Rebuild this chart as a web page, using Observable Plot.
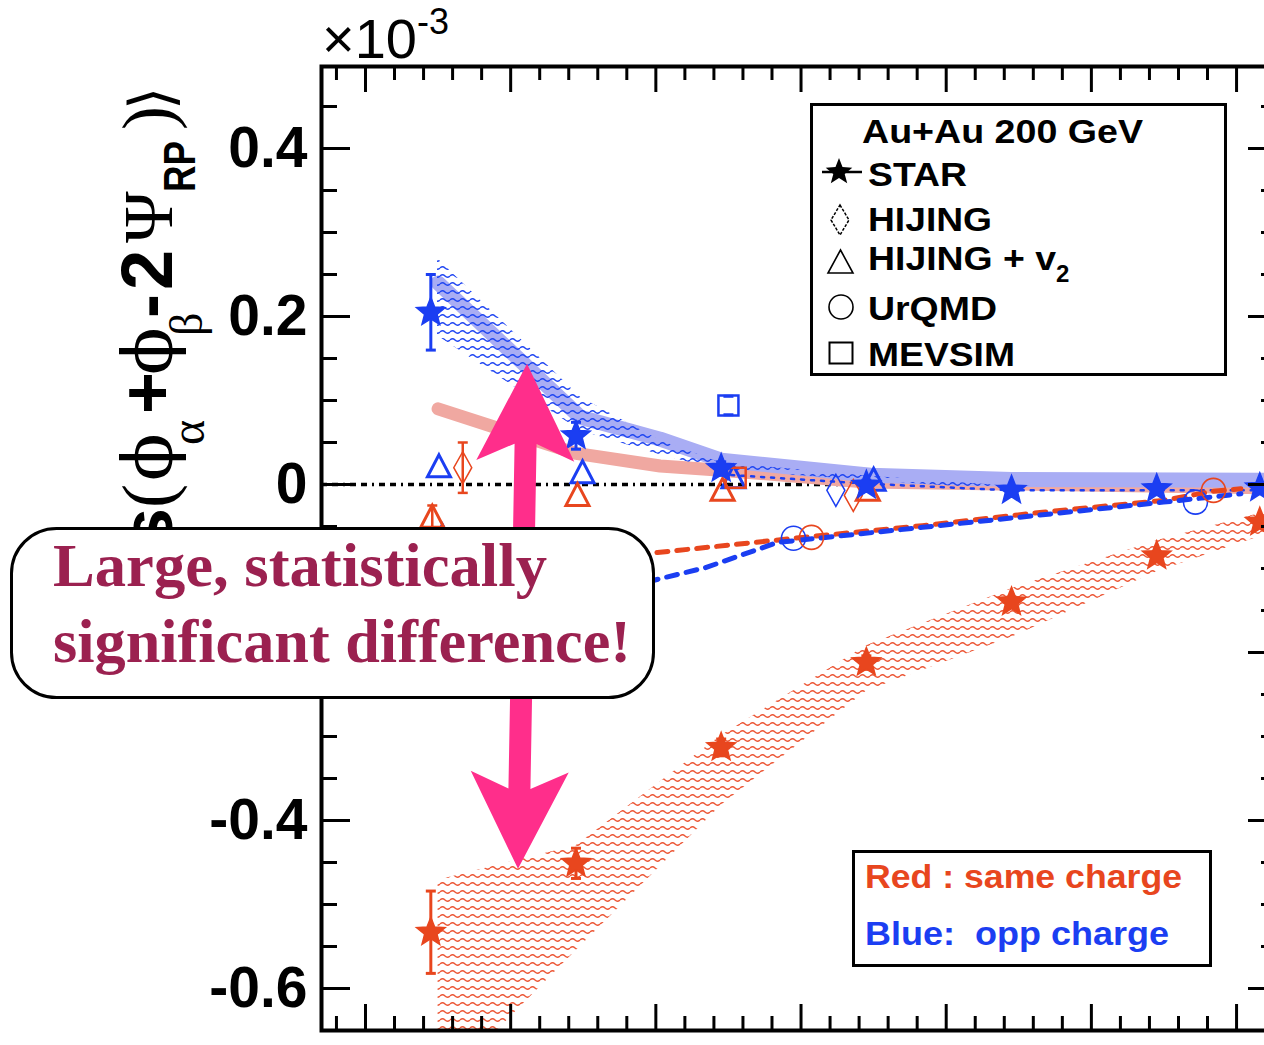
<!DOCTYPE html>
<html>
<head>
<meta charset="utf-8">
<script src="https://cdn.jsdelivr.net/npm/d3@7"></script>
<script src="https://cdn.jsdelivr.net/npm/@observablehq/plot@0.6"></script>
<style>
html, body { margin: 0; padding: 0; background: #fff; overflow: hidden; }
#wrap { position: relative; width: 1264px; height: 1045px; overflow: hidden; background: #fff; }
#wrap > svg { position: absolute; left: 0; top: 0; }
#overlay text { white-space: pre; }
</style>
</head>
<body>
<div id="wrap"></div>
<script>
// ---------------- data (x: centrality position, y: value in units of 1e-3) ----------------
const RED = "#e8461e", BLUE = "#1b3ef2";

// STAR points
const starX = [75.5, 65.5, 55.5, 45.5, 35.5, 25.5, 18.4];
const starSame = [-0.533, -0.451, -0.313, -0.212, -0.140, -0.085, -0.045];
const starSameErr = [0.049, 0.018, 0.010, 0.008, 0.006, 0.005, 0.005];
const starOpp = [0.205, 0.058, 0.019, -0.001, -0.007, -0.005, -0.004];
const starOppErr = [0.045, 0.016, 0.008, 0.006, 0.004, 0.004, 0.004];

// systematic (hatched) bands
const sameBandX = [75.0, 65.5, 55.5, 45.5, 35.5, 25.5, 17.18];
const sameBandHi = [-0.471, -0.430, -0.299, -0.192, -0.124, -0.067, -0.029];
const sameBandLo = [-0.721, -0.555, -0.382, -0.246, -0.182, -0.104, -0.055];
const oppBandX = [75.04, 65.19, 59.68, 55.55, 45.49, 35.57, 25.58, 17.18];
const oppBandHi = [0.269, 0.104, 0.052, 0.026, 0.010, -0.002, -0.004, -0.004];
const oppBandLo = [0.177, 0.064, 0.035, 0.017, 0.005, -0.007, -0.007, -0.007];
const oppDotX = [55.5, 45.5, 35.5, 25.5, 17.18];
const oppDotY = [0.012, 0.001, -0.007, -0.007, -0.007];

// thick light curves
const oppCurveX = [75.0, 65.2, 59.7, 55.5, 45.2, 35.5, 17.18];
const oppCurveY = [0.240, 0.080, 0.054, 0.029, 0.011, 0.006, 0.005];
const sameCurveX = [75.0, 65.5, 59.7, 55.5, 45.5, 17.18];
const sameCurveY = [0.090, 0.037, 0.022, 0.017, 0.003, -0.004];

// HIJING + v2 (triangles)
const triOppX = [74.94, 65.05, 54.65, 45.0, 74.7];
const triOppY = [0.021, 0.014, 0.008, 0.005, -0.062];
const triSameX = [75.4, 65.4, 55.4, 45.4];
const triSameY = [-0.039, -0.013, -0.007, -0.007];
const triSameErr = [0.014, 0, 0, 0];
// HIJING (diamonds)
const diaSameX = [73.3, 46.4];
const diaSameY = [0.020, -0.013];
const diaSameErr = [0.030, 0];
const diaOppX = [47.6];
const diaOppY = [-0.007];
// MEVSIM (squares)
const sqOppX = [55.0];
const sqOppY = [0.094];
const sqOppErr = [0.011];
const sqSameX = [54.5];
const sqSameY = [0.008];
// UrQMD (circles + dashed curves)
const circOppX = [50.52, 22.83];
const circOppY = [-0.064, -0.021];
const circSameX = [49.28, 21.59];
const circSameY = [-0.063, -0.007];
const urqSameX = [75.0, 59.89, 49.9, 41.63, 33.36, 25.03, 21.59, 19.7];
const urqSameY = [-0.108, -0.081, -0.063, -0.049, -0.033, -0.019, -0.008, -0.005];
const urqOppX = [75.0, 59.68, 56.58, 51.62, 41.63, 25.03, 22.83, 19.7];
const urqOppY = [-0.180, -0.112, -0.099, -0.069, -0.051, -0.021, -0.017, -0.011];

// axis ticks (the -0.2 label is hidden behind the callout in the reference)
const yMajorTicks = [-0.6, -0.4, -0.2, 0, 0.2, 0.4];
const yLabelTicks = [-0.6, -0.4, 0, 0.2, 0.4];
const yMinorTicks = [-0.55, -0.5, -0.45, -0.35, -0.3, -0.25, -0.15, -0.1, -0.05, 0.05, 0.1, 0.15, 0.25, 0.3, 0.35, 0.45];
const xMajorTicks = [80, 70, 60, 50, 40, 30, 20];
const xMinorTicks = [82, 78, 76, 74, 72, 68, 66, 64, 62, 58, 56, 54, 52, 48, 46, 44, 42, 38, 36, 34, 32, 28, 26, 24, 22, 18];

// annotation arrow (top tip, bottom tip)
const arrowX = [68.84, 69.46];
const arrowY = [0.143, -0.458];

// ---------------- helpers ----------------
const rows = (xs, ys, es) => xs.map((x, i) => ({x, y: ys[i], e: es ? es[i] : 0}));
const band = (xs, lo, hi) => xs.map((x, i) => ({x, lo: lo[i], hi: hi[i]}));

function starPath(c) {
  const R = 15, r = 6.5;
  for (let i = 0; i < 10; i++) {
    const a = -Math.PI / 2 + i * Math.PI / 5, rr = i % 2 ? r : R;
    const px = rr * Math.cos(a), py = rr * Math.sin(a);
    if (i) c.lineTo(px, py); else c.moveTo(px, py);
  }
  c.closePath();
}
const sym = {
  star: {draw: starPath},
  tri: {draw(c) { c.moveTo(0, -12); c.lineTo(11.5, 10); c.lineTo(-11.5, 10); c.closePath(); }},
  dia: {draw(c) { c.moveTo(0, -16); c.lineTo(9, 0); c.lineTo(0, 16); c.lineTo(-9, 0); c.closePath(); }},
  oct: {draw(c) { c.moveTo(12, 0); c.arc(0, 0, 12, 0, 2 * Math.PI); }},
  sq: {draw(c) { c.rect(-10, -10, 20, 20); }},
  cap: {draw(c) { c.moveTo(-5, 0); c.lineTo(5, 0); }}
};

function caps(d, color, width) {
  return [
    Plot.dot(d, {x: "x", y: r => r.y + r.e, symbol: sym.cap, stroke: color, strokeWidth: width, fill: "none"}),
    Plot.dot(d, {x: "x", y: r => r.y - r.e, symbol: sym.cap, stroke: color, strokeWidth: width, fill: "none"})
  ];
}
function errBars(data, color, width = 3) {
  const d = data.filter(r => r.e > 0);
  return [
    Plot.ruleX(d, {x: "x", y1: r => r.y - r.e, y2: r => r.y + r.e, stroke: color, strokeWidth: width}),
    ...caps(d, color, width)
  ];
}

const W = 1264, H = 1045, mL = 321, mR = -13, mT = 66, mB = 15;
const fw = W - mL - mR, fh = H - mT - mB;

const sameStar = rows(starX, starSame, starSameErr);
const oppStar = rows(starX, starOpp, starOppErr);

const chart = Plot.plot({
  width: W, height: H,
  marginLeft: mL, marginRight: mR, marginTop: mT, marginBottom: mB,
  style: {fontFamily: "'Liberation Sans', Arial, Helvetica, sans-serif", background: "white", color: "black"},
  x: {domain: [83.03, 17.18], axis: null},
  y: {domain: [-0.65, 0.4976]},
  marks: [
    Plot.ruleY([0], {stroke: "#000", strokeWidth: 3.5, strokeDasharray: "6,5,6,5,2,5"}),
    Plot.line(rows(sameCurveX, sameCurveY), {x: "x", y: "y", stroke: "#f0a8a1", strokeWidth: 13, curve: "linear"}),
    Plot.line(rows(oppCurveX, oppCurveY), {x: "x", y: "y", stroke: "#a9adf4", strokeWidth: 15, curve: "linear"}),
    Plot.areaY(band(sameBandX, sameBandLo, sameBandHi), {x: "x", y1: "lo", y2: "hi", fill: "url(#wavyRed)", clip: true}),
    Plot.areaY(band(oppBandX, oppBandLo, oppBandHi), {x: "x", y1: "lo", y2: "hi", fill: "url(#wavyBlue)", clip: true}),
    Plot.line(rows(oppDotX, oppDotY), {x: "x", y: "y", stroke: BLUE, strokeWidth: 2.5, strokeDasharray: "3,7"}),
    Plot.line(rows(urqSameX, urqSameY), {x: "x", y: "y", stroke: RED, strokeWidth: 5, strokeDasharray: "11,9"}),
    Plot.line(rows(urqOppX, urqOppY), {x: "x", y: "y", stroke: BLUE, strokeWidth: 5, strokeDasharray: "11,9", strokeDashoffset: 4}),
    // model markers
    ...errBars(rows(triSameX, triSameY, triSameErr), RED, 2.5),
    ...errBars(rows(diaSameX, diaSameY, diaSameErr), RED, 2.5),
    ...caps(rows(sqOppX, sqOppY, sqOppErr), BLUE, 3),
    Plot.dot(rows(triOppX, triOppY), {x: "x", y: "y", symbol: sym.tri, stroke: BLUE, strokeWidth: 3, fill: "none"}),
    Plot.dot(rows(triSameX, triSameY), {x: "x", y: "y", symbol: sym.tri, stroke: RED, strokeWidth: 3, fill: "none"}),
    Plot.dot(rows(diaSameX, diaSameY), {x: "x", y: "y", symbol: sym.dia, stroke: RED, strokeWidth: 1.5, fill: "none"}),
    Plot.dot(rows(diaOppX, diaOppY), {x: "x", y: "y", symbol: sym.dia, stroke: BLUE, strokeWidth: 1.5, fill: "none"}),
    Plot.dot(rows(sqOppX, sqOppY), {x: "x", y: "y", symbol: sym.sq, stroke: BLUE, strokeWidth: 2.5, fill: "none"}),
    Plot.dot(rows(sqSameX, sqSameY), {x: "x", y: "y", symbol: sym.sq, stroke: RED, strokeWidth: 2.5, fill: "none"}),
    Plot.dot(rows(circOppX, circOppY), {x: "x", y: "y", symbol: sym.oct, stroke: BLUE, strokeWidth: 1.6, fill: "none"}),
    Plot.dot(rows(circSameX, circSameY), {x: "x", y: "y", symbol: sym.oct, stroke: RED, strokeWidth: 1.6, fill: "none"}),
    // STAR
    ...errBars(sameStar, RED, 3),
    ...errBars(oppStar, BLUE, 3),
    Plot.dot(sameStar, {x: "x", y: "y", symbol: sym.star, fill: RED, stroke: RED, strokeWidth: 1.5}),
    Plot.dot(oppStar, {x: "x", y: "y", symbol: sym.star, fill: BLUE, stroke: BLUE, strokeWidth: 1.5}),
    // frame and ticks (ticks on all four sides, inward)
    Plot.tickX(xMajorTicks, {x: d => d, stroke: "#000", strokeWidth: 3, insetBottom: fh - 26}),
    Plot.tickX(xMinorTicks, {x: d => d, stroke: "#000", strokeWidth: 3, insetBottom: fh - 14}),
    Plot.tickX(xMajorTicks, {x: d => d, stroke: "#000", strokeWidth: 3, insetTop: fh - 26}),
    Plot.tickX(xMinorTicks, {x: d => d, stroke: "#000", strokeWidth: 3, insetTop: fh - 14}),
    Plot.tickY(yMajorTicks, {y: d => d, stroke: "#000", strokeWidth: 3, insetRight: fw - 29}),
    Plot.tickY(yMinorTicks, {y: d => d, stroke: "#000", strokeWidth: 3, insetRight: fw - 16}),
    Plot.tickY(yMajorTicks, {y: d => d, stroke: "#000", strokeWidth: 3, insetLeft: fw - 29}),
    Plot.tickY(yMinorTicks, {y: d => d, stroke: "#000", strokeWidth: 3, insetLeft: fw - 16}),
    Plot.frame({stroke: "#000", strokeWidth: 4}),
    Plot.axisY({ticks: yLabelTicks, tickSize: 0, tickPadding: 14, fontSize: 57, fontWeight: "bold", label: null,
      tickFormat: d => d === 0 ? "0" : (d < 0 ? "-" : "") + Math.abs(d).toFixed(1)})
  ]
});

// hatch patterns
d3.select(chart).insert("defs", ":first-child").html(`
  <pattern id="wavyRed" patternUnits="userSpaceOnUse" width="10" height="8">
    <path d="M0,4 Q2.5,1.6 5,4 T10,4" fill="none" stroke="#ec5534" stroke-width="1.4"/>
  </pattern>
  <pattern id="wavyBlue" patternUnits="userSpaceOnUse" width="10" height="8">
    <path d="M0,4 Q2.5,1.6 5,4 T10,4" fill="none" stroke="#1f45f2" stroke-width="1.5"/>
  </pattern>`);

// pink double-headed annotation arrow, placed through the plot's scales
{
  const sx = chart.scale("x"), sy = chart.scale("y");
  const x0 = sx.apply(arrowX[0]), y0 = sy.apply(arrowY[0]);
  const x1 = sx.apply(arrowX[1]), y1 = sy.apply(arrowY[1]);
  const L = Math.hypot(x1 - x0, y1 - y0);
  const ux = (x1 - x0) / L, uy = (y1 - y0) / L, nx = -uy, ny = ux;
  const head = 97, barb = 49, neck = 80, shaft = 11;
  const pts = [[0, 0], [barb, head], [shaft, neck], [shaft, L - neck], [barb, L - head], [0, L],
               [-barb, L - head], [-shaft, L - neck], [-shaft, neck], [-barb, head]]
    .map(([a, t]) => [x0 + ux * t + nx * a, y0 + uy * t + ny * a]);
  d3.select(chart).append("path")
    .attr("d", "M" + pts.map(p => p.join(",")).join("L") + "Z")
    .attr("fill", "#ff2e8b");
}

document.getElementById("wrap").appendChild(chart);

// overlay: axis label, exponent, callout, legends
const ov = `
<svg id="overlay" width="1264" height="1045" viewBox="0 0 1264 1045" xmlns="http://www.w3.org/2000/svg">
  <text x="322" y="58" font-family="'Liberation Sans', Arial, sans-serif" font-size="56">×10<tspan font-size="36" dy="-24">-3</tspan></text>
  <g transform="translate(172,0) rotate(-90)" fill="#000">
    <text x="-508" text-anchor="end" font-family="'Liberation Sans', Arial, sans-serif" font-weight="bold" font-size="72"><tspan font-family="'DejaVu Sans'" font-weight="normal">⟨</tspan>cos</text>
    <text x="-508" font-family="'Liberation Serif', serif" font-size="72">(</text>
    <text x="-481" font-family="'DejaVu Serif', serif" font-size="70">ϕ</text>
    <text x="-445" y="32" font-family="'Liberation Serif', serif" font-size="48">α</text>
    <text x="-414" font-family="'Liberation Sans', Arial, sans-serif" font-weight="bold" font-size="72">+</text>
    <text x="-375" font-family="'DejaVu Serif', serif" font-size="70">ϕ</text>
    <text x="-336" y="30" font-family="'Liberation Serif', serif" font-size="46">β</text>
    <text x="-318" font-family="'Liberation Sans', Arial, sans-serif" font-weight="bold" font-size="72">-</text>
    <text x="-290" font-family="'Liberation Sans', Arial, sans-serif" font-weight="bold" font-size="72">2</text>
    <text x="-243" font-family="'Liberation Serif', serif" font-size="70">Ψ</text>
    <text x="-192" y="23" font-family="'Liberation Sans', Arial, sans-serif" font-weight="bold" font-size="44" textLength="51" lengthAdjust="spacingAndGlyphs">RP</text>
    <text x="-130" font-family="'Liberation Serif', serif" font-size="72">)</text>
    <text x="-110" font-family="'DejaVu Sans'" font-size="60">⟩</text>
  </g>
  <rect x="11.5" y="528.5" width="642" height="169" rx="45" fill="#fff" stroke="#000" stroke-width="3"/>
  <g font-family="'Liberation Serif', 'Times New Roman', serif" font-weight="bold" font-size="62" fill="#9b2150">
    <text x="53" y="586" textLength="494" lengthAdjust="spacingAndGlyphs">Large, statistically</text>
    <text x="53" y="662" textLength="578" lengthAdjust="spacingAndGlyphs">significant difference!</text>
  </g>
  <rect x="811.5" y="104.5" width="414" height="270" fill="#fff" stroke="#000" stroke-width="3"/>
  <g font-family="'Liberation Sans', Arial, sans-serif" font-weight="bold" font-size="34" fill="#000">
    <text x="862" y="143" textLength="281" lengthAdjust="spacingAndGlyphs">Au+Au 200 GeV</text>
    <text x="868" y="186" textLength="99" lengthAdjust="spacingAndGlyphs">STAR</text>
    <text x="868" y="231" textLength="124" lengthAdjust="spacingAndGlyphs">HIJING</text>
    <text x="868" y="270"><tspan textLength="188" lengthAdjust="spacingAndGlyphs">HIJING + v</tspan><tspan font-size="24" dy="12">2</tspan></text>
    <text x="868" y="320" textLength="129" lengthAdjust="spacingAndGlyphs">UrQMD</text>
    <text x="868" y="366" textLength="147" lengthAdjust="spacingAndGlyphs">MEVSIM</text>
  </g>
  <line x1="822" y1="172" x2="862" y2="172" stroke="#000" stroke-width="2.5"/>
  <path d="M839,158 L842.5,167.1 L852.3,167.7 L844.7,173.9 L847.2,183.3 L839,178 L830.8,183.3 L833.3,173.9 L825.7,167.7 L835.5,167.1 Z" fill="#000"/>
  <path d="M840,205 L849,220 L840,235 L831,220 Z" fill="none" stroke="#000" stroke-width="1.5" stroke-dasharray="3,1.5"/>
  <path d="M840.5,250 L853,273 L828,273 Z" fill="none" stroke="#000" stroke-width="1.6"/>
  <circle cx="841" cy="307" r="12" fill="none" stroke="#000" stroke-width="1.6"/>
  <rect x="829.5" y="342.5" width="23" height="21" fill="none" stroke="#000" stroke-width="2"/>
  <rect x="853.5" y="851.5" width="357" height="114" fill="#fff" stroke="#000" stroke-width="3"/>
  <g font-family="'Liberation Sans', Arial, sans-serif" font-weight="bold" font-size="33">
    <text x="865" y="888" fill="#e8461e" textLength="317" lengthAdjust="spacingAndGlyphs">Red : same charge</text>
    <text x="865" y="945" fill="#1b3ef2" textLength="304" lengthAdjust="spacingAndGlyphs">Blue:  opp charge</text>
  </g>
</svg>`;
document.getElementById("wrap").insertAdjacentHTML("beforeend", ov);
</script>
</body>
</html>
